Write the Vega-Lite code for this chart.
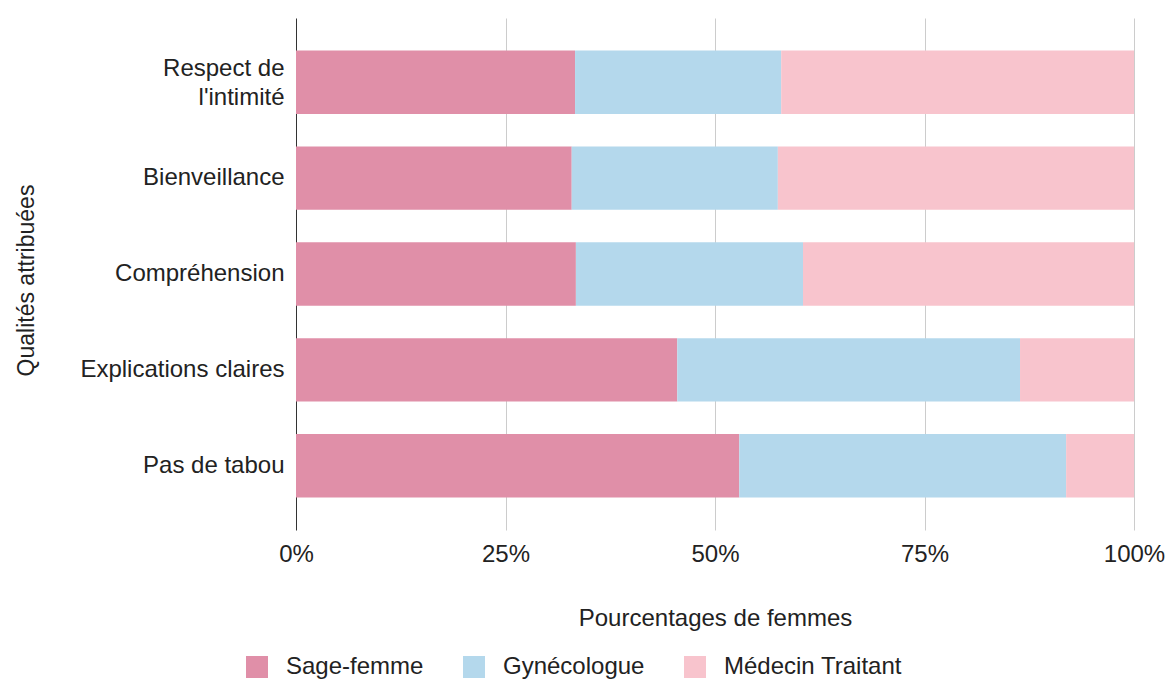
{
  "$schema": "https://vega.github.io/schema/vega-lite/v6.json",
  "width": 838,
  "height": 512,
  "autosize": {"type": "none"},
  "padding": {"left": 296, "top": 18, "right": 35, "bottom": 151},
  "background": "white",
  "config": {
    "font": "Liberation Sans",
    "view": {"stroke": null},
    "axis": {"labelFont": "Liberation Sans", "titleFont": "Liberation Sans", "labelColor": "#222", "titleColor": "#222", "titleFontWeight": "normal"}
  },
  "data": {
    "values": [
      {"q": "Respect de l'intimité", "p": "Sage-femme", "o": 1, "v": 0.333},
      {"q": "Respect de l'intimité", "p": "Gynécologue", "o": 2, "v": 0.246},
      {"q": "Respect de l'intimité", "p": "Médecin Traitant", "o": 3, "v": 0.421},
      {"q": "Bienveillance", "p": "Sage-femme", "o": 1, "v": 0.329},
      {"q": "Bienveillance", "p": "Gynécologue", "o": 2, "v": 0.246},
      {"q": "Bienveillance", "p": "Médecin Traitant", "o": 3, "v": 0.425},
      {"q": "Compréhension", "p": "Sage-femme", "o": 1, "v": 0.334},
      {"q": "Compréhension", "p": "Gynécologue", "o": 2, "v": 0.271},
      {"q": "Compréhension", "p": "Médecin Traitant", "o": 3, "v": 0.395},
      {"q": "Explications claires", "p": "Sage-femme", "o": 1, "v": 0.455},
      {"q": "Explications claires", "p": "Gynécologue", "o": 2, "v": 0.409},
      {"q": "Explications claires", "p": "Médecin Traitant", "o": 3, "v": 0.136},
      {"q": "Pas de tabou", "p": "Sage-femme", "o": 1, "v": 0.529},
      {"q": "Pas de tabou", "p": "Gynécologue", "o": 2, "v": 0.390},
      {"q": "Pas de tabou", "p": "Médecin Traitant", "o": 3, "v": 0.081}
    ]
  },
  "mark": {"type": "bar"},
  "encoding": {
    "y": {
      "field": "q",
      "type": "nominal",
      "sort": ["Respect de l'intimité", "Bienveillance", "Compréhension", "Explications claires", "Pas de tabou"],
      "scale": {"paddingInner": 0.34, "paddingOuter": 0.34},
      "axis": {
        "title": "Qualités attribuées",
        "titleFontSize": 23,
        "titleAngle": -90,
        "titleX": -270,
        "titleY": 262,
        "titleAlign": "center",
        "titleBaseline": "middle",
        "labelFontSize": 24,
        "labelPadding": 12,
        "labelLimit": 300,
        "labelExpr": "datum.value == \"Respect de l'intimité\" ? ['Respect de', \"l'intimité\"] : datum.value",
        "labelOffset": {"condition": {"test": "datum.value == \"Respect de l'intimité\"", "value": -13}, "value": 0},
        "labelLineHeight": 29,
        "domain": false,
        "ticks": false
      }
    },
    "x": {
      "field": "v",
      "type": "quantitative",
      "stack": "zero",
      "scale": {"domain": [0, 1], "nice": false},
      "axis": {
        "title": "Pourcentages de femmes",
        "titleFontSize": 24,
        "titleY": 88,
        "titleBaseline": "middle",
        "format": ".0%",
        "values": [0, 0.25, 0.5, 0.75, 1],
        "labelFontSize": 24,
        "labelPadding": 24,
        "labelBaseline": "middle",
        "labelFlush": false,
        "labelOverlap": false,
        "grid": true,
        "gridColor": {"condition": {"test": "datum.value === 0", "value": "#333"}, "value": "#cccccc"},
        "gridWidth": 1,
        "domain": false,
        "ticks": false
      }
    },
    "color": {
      "field": "p",
      "type": "nominal",
      "sort": ["Sage-femme", "Gynécologue", "Médecin Traitant"],
      "scale": {"domain": ["Sage-femme", "Gynécologue", "Médecin Traitant"], "range": ["#E08FA8", "#B4D8EC", "#F8C4CD"]},
      "legend": {
        "title": null,
        "orient": "none",
        "direction": "horizontal",
        "legendX": -51,
        "legendY": 637,
        "symbolType": "square",
        "symbolSize": 484,
        "symbolStrokeWidth": 0,
        "labelFontSize": 24,
        "labelColor": "#222",
        "labelOffset": 17,
        "labelLimit": 400,
        "columnPadding": 38
      }
    },
    "order": {"field": "o", "type": "quantitative"}
  }
}
